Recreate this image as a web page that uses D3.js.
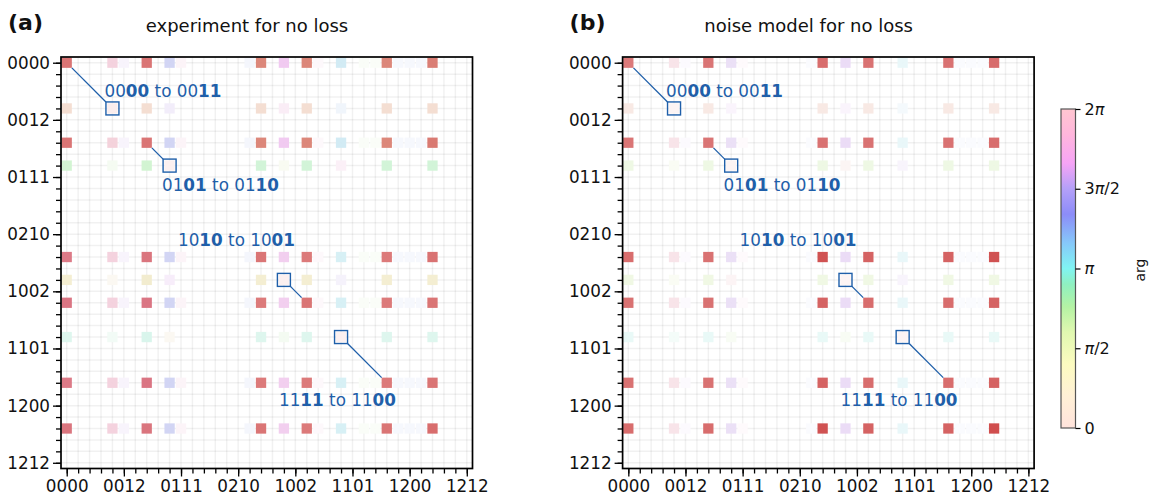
<!DOCTYPE html>
<html>
<meta charset="utf-8">
<style>
    body { margin: 0; background: #fff; }
    text { font-family: "DejaVu Sans", sans-serif; }
</style>
<body>
<script src="https://d3js.org/d3.v7.min.js"></script>
<script>

    // states are mixed radix (2,3,2,3), 36 in all
    var tickLabels = ["0000", "0012", "0111", "0210", "1002", "1101", "1200", "1212"];
    var nStates = 36;

    // indices that carry visible weight
    var S = [0, 4, 7, 9, 17, 19, 21, 24, 28, 32];

    // panel (a) experiment: amplitude (as opacity) and phase (degrees)
    var ampA = [
        [0.62, 0.20, 0.62, 0.20, 0.60, 0.24, 0.60, 0.20, 0.60, 0.62],
        [0.20, 0.08, 0.20, 0.08, 0.20, 0.08, 0.20, 0.07, 0.20, 0.20],
        [0.62, 0.20, 0.62, 0.20, 0.60, 0.24, 0.60, 0.20, 0.60, 0.64],
        [0.20, 0.06, 0.20, 0.07, 0.20, 0.06, 0.20, 0.07, 0.20, 0.20],
        [0.60, 0.20, 0.62, 0.20, 0.62, 0.22, 0.60, 0.18, 0.60, 0.64],
        [0.20, 0.06, 0.22, 0.08, 0.20, 0.07, 0.20, 0.06, 0.20, 0.20],
        [0.62, 0.20, 0.62, 0.20, 0.60, 0.22, 0.62, 0.18, 0.60, 0.62],
        [0.15, 0.06, 0.17, 0.06, 0.15, 0.06, 0.15, 0.07, 0.15, 0.15],
        [0.60, 0.20, 0.62, 0.20, 0.60, 0.22, 0.60, 0.18, 0.60, 0.62],
        [0.62, 0.20, 0.62, 0.20, 0.62, 0.22, 0.60, 0.18, 0.62, 0.66]
    ];
    var phaseA = [
        [0, 340, 0, 235, 8, 300, 8, 195, 8, 5],
        [20, 0, 20, 260, 20, 320, 20, 215, 20, 20],
        [0, 345, 0, 235, 8, 300, 8, 195, 8, 5],
        [120, 100, 120, 0, 130, 75, 130, 320, 130, 130],
        [352, 340, 355, 235, 0, 305, 0, 190, 0, 0],
        [50, 40, 50, 285, 50, 0, 50, 260, 50, 50],
        [352, 340, 352, 235, 0, 305, 0, 190, 0, 0],
        [160, 150, 160, 40, 160, 110, 160, 0, 160, 160],
        [352, 340, 352, 235, 0, 305, 0, 190, 0, 0],
        [355, 340, 355, 235, 0, 305, 0, 190, 0, 0]
    ];

    // panel (b) noise model
    var ampB = [
        [0.60, 0.12, 0.62, 0.14, 0.66, 0.16, 0.64, 0.10, 0.64, 0.66],
        [0.12, 0.05, 0.12, 0.05, 0.12, 0.05, 0.12, 0.05, 0.12, 0.12],
        [0.62, 0.12, 0.62, 0.14, 0.64, 0.16, 0.64, 0.10, 0.64, 0.66],
        [0.12, 0.05, 0.12, 0.05, 0.12, 0.05, 0.12, 0.05, 0.12, 0.12],
        [0.66, 0.12, 0.64, 0.14, 0.78, 0.16, 0.70, 0.10, 0.70, 0.78],
        [0.12, 0.05, 0.12, 0.05, 0.12, 0.05, 0.12, 0.05, 0.12, 0.12],
        [0.64, 0.12, 0.64, 0.14, 0.70, 0.16, 0.66, 0.10, 0.66, 0.70],
        [0.10, 0.05, 0.10, 0.05, 0.10, 0.05, 0.10, 0.05, 0.10, 0.10],
        [0.64, 0.12, 0.64, 0.14, 0.70, 0.16, 0.66, 0.10, 0.66, 0.70],
        [0.66, 0.12, 0.66, 0.14, 0.78, 0.16, 0.70, 0.10, 0.70, 0.80]
    ];
    var phaseB = [
        [0, 345, 0, 270, 0, 275, 0, 185, 0, 0],
        [15, 0, 15, 285, 15, 290, 15, 200, 15, 15],
        [0, 345, 0, 270, 0, 275, 0, 185, 0, 0],
        [90, 75, 90, 0, 90, 5, 90, 275, 90, 90],
        [0, 345, 0, 270, 0, 275, 0, 185, 0, 0],
        [85, 70, 85, 355, 85, 0, 85, 270, 85, 85],
        [0, 345, 0, 270, 0, 275, 0, 185, 0, 0],
        [175, 160, 175, 85, 175, 90, 175, 0, 175, 175],
        [0, 345, 0, 270, 0, 275, 0, 185, 0, 0],
        [0, 345, 0, 270, 0, 275, 0, 185, 0, 0]
    ];

    // very faint columns next to the strong rows (same in every strong row)
    var strongRows = [0, 7, 17, 21, 28, 32];
    var faintColsA = [5, 10, 16, 22, 26, 27, 29, 30, 31];
    var faintAmpA = [0.05, 0.05, 0.05, 0.03, 0.03, 0.03, 0.04, 0.04, 0.04];
    var faintHueA = [270, 330, 220, 330, 100, 100, 220, 220, 220];
    var faintColsB = [5, 10, 16, 29, 30, 31];
    var faintAmpB = [0.02, 0.02, 0.02, 0.02, 0.02, 0.02];
    var faintHueB = [270, 330, 220, 220, 220, 220];

    // annotations: [from state, to state, prefix, bold, mid, bold2, text x, text y]
    var notes = [
        [0, 4, "00", "00", " to 00", "11", 104.5, 97],
        [7, 9, "01", "01", " to 01", "10", 162, 191],
        [21, 19, "10", "10", " to 10", "01", 178, 246],
        [28, 24, "11", "11", " to 11", "00", 279, 406]
    ];

    // colour bar (t = arg / 2pi)
    var cbStops = [
        [0.00, "#ffe3dc"], [0.10, "#fff0d6"], [0.20, "#fcfbc0"], [0.30, "#e0f8b0"],
        [0.38, "#b4f2a4"], [0.45, "#8ff0c0"], [0.50, "#80f4f2"], [0.58, "#86c8fa"],
        [0.67, "#8c8cf8"], [0.75, "#b4a0f8"], [0.83, "#f6a4f6"], [0.92, "#ffb6dc"],
        [1.00, "#ffc6d0"]
    ];
    // [before pi, has pi, after pi]
    var cbTicks = [["0", false, ""], ["", true, "/2"], ["", true, ""], ["3", true, "/2"], ["2", true, ""]];

    var W = 1153, H = 502;
    var plotTop = 57, plotBot = 468.5, plotW = 411.5;
    var noteBlue = "#1f5fa9";

    var svg = d3.select("body").append("svg")
        .attr("width", W)
        .attr("height", H);

    function baseColor(h, a) {
        var c = d3.rgb(d3.hsl(h, 0.8, 0.42));
        var r = Math.round(255 * (1 - a) + c.r * a),
            g = Math.round(255 * (1 - a) + c.g * a),
            b = Math.round(255 * (1 - a) + c.b * a);
        return d3.rgb(r, g, b).toString();
    }

    function drawPanel(left, amp, phase, fCols, fAmp, fHue, letter, title) {
        var x = d3.scaleLinear().domain([-0.5, nStates - 0.5]).range([left, left + plotW]);
        var y = d3.scaleLinear().domain([-0.5, nStates - 0.5]).range([plotTop, plotBot]);
        var step = x(1) - x(0);
        var g = svg.append("g");

        // grid through cell centres
        var idx = d3.range(nStates);
        g.selectAll(".gv").data(idx).enter().append("line")
            .attr("x1", function(d) { return x(d); })
            .attr("x2", function(d) { return x(d); })
            .attr("y1", plotTop).attr("y2", plotBot)
            .attr("stroke", "#000").attr("stroke-opacity", 0.055).attr("stroke-width", 1.5);
        g.selectAll(".gh").data(idx).enter().append("line")
            .attr("y1", function(d) { return y(d); })
            .attr("y2", function(d) { return y(d); })
            .attr("x1", left).attr("x2", left + plotW)
            .attr("stroke", "#000").attr("stroke-opacity", 0.055).attr("stroke-width", 1.5);

        // cells
        var cells = [];
        S.forEach(function(r, i) {
            S.forEach(function(c, j) {
                cells.push({r: r, c: c, a: amp[i][j], h: phase[i][j]});
            });
        });
        strongRows.forEach(function(r) {
            fCols.forEach(function(c, k) {
                cells.push({r: r, c: c, a: fAmp[k], h: fHue[k]});
            });
        });
        var sz = step * 0.9;
        g.selectAll(".cell").data(cells).enter().append("rect")
            .attr("x", function(d) { return x(d.c) - sz / 2; })
            .attr("y", function(d) { return y(d.r) - sz / 2; })
            .attr("width", sz).attr("height", sz)
            .attr("fill", function(d) { return baseColor(d.h, d.a); })
            .attr("fill-opacity", 0.95);

        // frame
        g.append("rect")
            .attr("x", left).attr("y", plotTop)
            .attr("width", plotW).attr("height", plotBot - plotTop)
            .attr("fill", "none").attr("stroke", "#000").attr("stroke-width", 1.7);

        // ticks
        var yAxis = d3.axisLeft(y).tickValues(idx).tickSize(5).tickFormat("");
        var yMajor = d3.axisLeft(y).tickValues(d3.range(0, nStates, 5)).tickSize(8)
            .tickPadding(3).tickFormat(function(d) { return tickLabels[d / 5]; });
        var xAxis = d3.axisBottom(x).tickValues(idx).tickSize(5).tickFormat("");
        var xMajor = d3.axisBottom(x).tickValues(d3.range(0, nStates, 5)).tickSize(8)
            .tickPadding(4).tickFormat(function(d) { return tickLabels[d / 5]; });

        [[yAxis, "translate(" + left + ",0)"], [yMajor, "translate(" + left + ",0)"],
         [xAxis, "translate(0," + plotBot + ")"], [xMajor, "translate(0," + plotBot + ")"]]
            .forEach(function(p) {
                var ax = g.append("g").attr("transform", p[1]).call(p[0]);
                ax.select(".domain").remove();
                ax.selectAll("line").attr("stroke", "#000").attr("stroke-width", 1.3);
                ax.selectAll("text").attr("font-size", "16.8px").attr("fill", "#111")
                    .style("font-family", "DejaVu Sans");
            });

        // annotations
        var hb = 6.5, hs = sz / 2;
        notes.forEach(function(n) {
            var fx = x(n[0]), fy = y(n[0]), tx = x(n[1]), ty = y(n[1]);
            var line;
            if (n[1] > n[0]) {
                line = [fx + hs, fy + hs, tx - hb, ty - hb];
            } else {
                line = [tx + hb, ty + hb, fx - hs, fy - hs];
            }
            g.append("line")
                .attr("x1", line[0]).attr("y1", line[1])
                .attr("x2", line[2]).attr("y2", line[3])
                .attr("stroke", noteBlue).attr("stroke-width", 1.3);
            g.append("rect")
                .attr("x", tx - hb).attr("y", ty - hb)
                .attr("width", hb * 2).attr("height", hb * 2)
                .attr("fill", "none").attr("stroke", noteBlue).attr("stroke-width", 1.4);
            var t = g.append("text")
                .attr("x", n[6] + left - 61).attr("y", n[7])
                .attr("font-size", "16.8px").attr("fill", noteBlue);
            t.append("tspan").text(n[2]);
            t.append("tspan").attr("font-weight", "bold").text(n[3]);
            t.append("tspan").text(n[4]);
            t.append("tspan").attr("font-weight", "bold").text(n[5]);
        });

        svg.append("text")
            .attr("x", left - 53).attr("y", 30)
            .attr("font-size", "22px").attr("font-weight", "bold")
            .attr("fill", "#111")
            .text(letter);
        svg.append("text")
            .attr("x", left + 186).attr("y", 32)
            .attr("text-anchor", "middle")
            .attr("font-size", "18px").attr("fill", "#111")
            .text(title);
    }

    drawPanel(61, ampA, phaseA, faintColsA, faintAmpA, faintHueA, "(a)", "experiment for no loss");
    drawPanel(622.6, ampB, phaseB, faintColsB, faintAmpB, faintHueB, "(b)", "noise model for no loss");

    // colour bar
    var cbX = 1061, cbW = 14.5, cbTop = 109, cbBot = 428;
    var defs = svg.append("defs");
    var grad = defs.append("linearGradient").attr("id", "cb")
        .attr("x1", 0).attr("y1", 1).attr("x2", 0).attr("y2", 0);
    grad.selectAll("stop").data(cbStops).enter().append("stop")
        .attr("offset", function(d) { return d[0]; })
        .attr("stop-color", function(d) { return d[1]; });
    svg.append("rect")
        .attr("x", cbX).attr("y", cbTop)
        .attr("width", cbW).attr("height", cbBot - cbTop)
        .attr("fill", "url(#cb)")
        .attr("stroke", "#555").attr("stroke-width", 1.2);

    var cy = d3.scaleLinear().domain([0, 4]).range([cbBot, cbTop]);
    var cAxis = d3.axisRight(cy).tickValues([0, 1, 2, 3, 4]).tickSize(5).tickPadding(4)
        .tickFormat("");
    var cg = svg.append("g").attr("transform", "translate(" + (cbX + cbW) + ",0)").call(cAxis);
    cg.select(".domain").remove();
    cg.selectAll("line").attr("stroke", "#000").attr("stroke-width", 1.2);
    cg.selectAll(".tick text").each(function(d) {
        var t = d3.select(this)
            .attr("font-size", "16px").attr("fill", "#111")
            .style("font-family", "DejaVu Sans");
        var lab = cbTicks[d];
        t.append("tspan").text(lab[0]);
        if (lab[1]) t.append("tspan").attr("font-style", "italic").text("\u03c0");
        t.append("tspan").text(lab[2]);
    });

    svg.append("text")
        .attr("transform", "translate(1145,270) rotate(-90)")
        .attr("text-anchor", "middle")
        .attr("font-size", "14px").attr("fill", "#111")
        .text("arg");

</script>
</body>
</html>
